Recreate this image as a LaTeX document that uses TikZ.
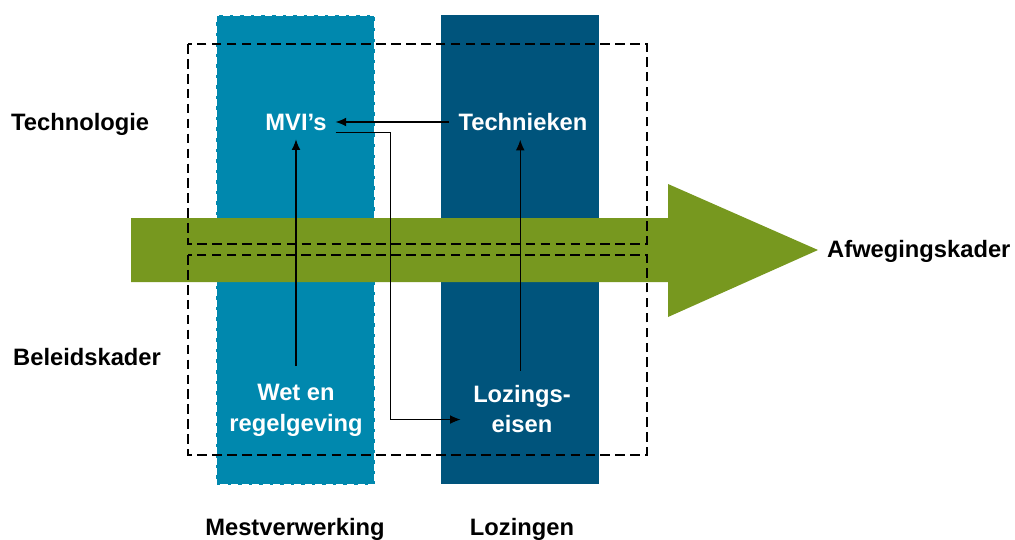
\documentclass[tikz,border=0pt]{standalone}
\usepackage{fontspec}
\setmainfont{Liberation Sans}
\usepackage{tikz}
\usetikzlibrary{arrows.meta}
\definecolor{mestblauw}{RGB}{0,136,174}
\definecolor{lozblauw}{RGB}{0,84,124}
\definecolor{kadergroen}{RGB}{119,152,31}

\begin{document}
\begin{tikzpicture}[x=0.2mm,y=-0.2mm,
  lbl/.style={font=\fontsize{13.5}{17.5}\selectfont\bfseries, align=center},
  inlbl/.style={lbl, text=white, inner sep=5pt},
  kader/.style={line width=1.5pt, dash pattern=on 5.5pt off 3pt},
  pijl/.style={-{Latex[length=6pt,width=5pt]}, line width=0.6pt}]
\useasboundingbox (0,0) rectangle (1015,539);

\fill [mestblauw] (216,15) rectangle (375,485);
\draw [white, line width=1.2pt, dash pattern=on 4pt off 2pt] (216,15) rectangle (375,485);
\fill [lozblauw] (441,15) rectangle (599,484);

\fill [kadergroen] (131,218) -- (668,218) -- (668,184) -- (818,250) -- (668,317) -- (668,282) -- (131,282) -- cycle;

\draw [kader] (188,44) rectangle (647,244);
\draw [kader] (188,255) rectangle (647,455);

\node [inlbl] (mvi) at (296,122) {MVI’s};
\node [inlbl] (tech) at (523,122) {Technieken};
\node [inlbl] (wet) at (296,410) {Wet en\\regelgeving};
\node [inlbl] (loz) at (522,409) {Lozings-\\eisen};

\node [lbl, anchor=west] (technologie) at (5,124) {Technologie};
\node [lbl, anchor=west] (beleid) at (7,357) {Beleidskader};
\node [lbl, anchor=west] (afweging) at (821,251) {Afwegingskader};
\node [lbl] (mest) at (295,529) {Mestverwerking};
\node [lbl] (lozingen) at (522,529) {Lozingen};

\draw [pijl] (tech.west) -- (tech.west -| mvi.east);
\draw [pijl] ([yshift=5pt]wet.north) -- (mvi.south);
\draw [pijl] ([xshift=-1pt,yshift=3pt]loz.north) -- ([xshift=-1pt]loz.north |- tech.south);
\draw [pijl] ([yshift=-6pt]mvi.east) -- ++(55,0) |- ([xshift=-2pt,yshift=-6pt]loz.west);

\end{tikzpicture}
\end{document}
